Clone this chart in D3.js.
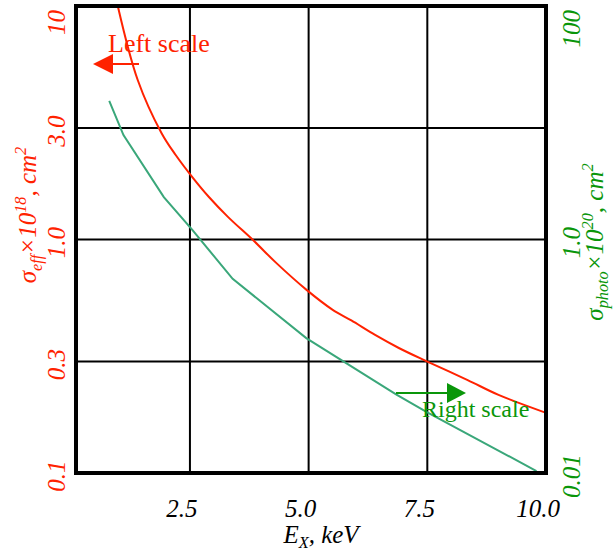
<!DOCTYPE html>
<html>
<head>
<meta charset="utf-8">
<script src="https://cdn.jsdelivr.net/npm/d3@7"></script>
<style>
  body { margin: 0; background: #fff; }
  text { font-family: "Liberation Serif", "Times New Roman", serif; }
</style>
</head>
<body>
<script>
const width = 614;
const height = 554;

// plot box
const plotL = 76, plotR = 546, plotT = 6, plotB = 473;

// ticks
const energyTicks = [2.5, 5.0, 7.5, 10.0];
const energyLabels = ["2.5", "5.0", "7.5", "10.0"];
const leftTicks = [0.1, 0.3, 1.0, 3.0, 10];
const leftLabels = ["0.1", "0.3", "1.0", "3.0", "10"];
const rightTicks = [0.01, 1.0, 100];
const rightLabels = ["0.01", "1.0", "100"];

// sigma_eff (left scale), x1e-18 cm^2
const effEnergy = [0.98, 1.4, 1.9, 2.2, 2.55, 2.9, 3.3, 3.85, 4.3, 4.95, 5.5, 5.9, 6.4, 6.9, 7.5, 8.35, 9.0, 10.0];
const effSigma  = [10, 4.82, 2.86, 2.30, 1.85, 1.52, 1.25, 0.985, 0.80, 0.61, 0.501, 0.450, 0.390, 0.343, 0.30, 0.25, 0.216, 0.181];

// sigma_photo (right scale), x1e-20 cm^2
const photoEnergy = [0.8, 1.1, 1.95, 2.55, 3.4, 4.95, 6.85, 7.5, 9.8];
const photoSigma  = [15.4, 7.85, 2.31, 1.21, 0.46, 0.143, 0.047, 0.033, 0.0104];

const red = "#ff2200";
const green = "#0a960a";
const teal = "#3aa77a";

const svg = d3.select("body")
    .append("svg")
    .attr("width", width)
    .attr("height", height);

const xScale = d3.scaleLinear().domain([0.1, 10]).range([plotL, plotR]);
const yLeft = d3.scaleLog().domain([0.1, 10]).range([plotB, plotT]);
const yRight = d3.scaleLog().domain([0.01, 100]).range([plotB, plotT]);

// gridlines
svg.append("g")
    .selectAll("line")
    .data(energyTicks.slice(0, 3))
    .join("line")
    .attr("x1", d => xScale(d)).attr("x2", d => xScale(d))
    .attr("y1", plotT).attr("y2", plotB)
    .attr("stroke", "#000").attr("stroke-width", 2);

svg.append("g")
    .selectAll("line")
    .data(leftTicks.slice(1, 4))
    .join("line")
    .attr("x1", plotL).attr("x2", plotR)
    .attr("y1", d => yLeft(d)).attr("y2", d => yLeft(d))
    .attr("stroke", "#000").attr("stroke-width", 2);

// curves
const effLine = d3.line()
    .x(d => xScale(d[0]))
    .y(d => yLeft(d[1]))
    .curve(d3.curveCatmullRom.alpha(0.5));

const photoLine = d3.line()
    .x(d => xScale(d[0]))
    .y(d => yRight(d[1]))
    .curve(d3.curveLinear);

svg.append("path")
    .datum(d3.zip(effEnergy, effSigma))
    .attr("d", effLine)
    .attr("fill", "none")
    .attr("stroke", red)
    .attr("stroke-width", 2);

svg.append("path")
    .datum(d3.zip(photoEnergy, photoSigma))
    .attr("d", photoLine)
    .attr("fill", "none")
    .attr("stroke", teal)
    .attr("stroke-width", 2);

// frame
svg.append("rect")
    .attr("x", plotL).attr("y", plotT)
    .attr("width", plotR - plotL).attr("height", plotB - plotT)
    .attr("fill", "none")
    .attr("stroke", "#000")
    .attr("stroke-width", 4);

// bottom tick labels
svg.append("g")
    .selectAll("text")
    .data(energyTicks)
    .join("text")
    .attr("x", d => xScale(d) - 8)
    .attr("y", 517)
    .attr("text-anchor", "middle")
    .attr("font-size", 25)
    .attr("font-style", "italic")
    .attr("fill", "#000")
    .text((d, i) => energyLabels[i]);

// rotated tick labels
function sideLabels(ticks, labels, scale, x, color) {
    svg.append("g")
        .selectAll("text")
        .data(ticks)
        .join("text")
        .attr("transform", (d, i) => {
            const top = i === ticks.length - 1;
            const y = top ? plotT + 4 : scale(d) + 3;
            return `translate(${x},${y}) rotate(-90)`;
        })
        .attr("text-anchor", (d, i) => i === ticks.length - 1 ? "end" : "middle")
        .attr("font-size", 25)
        .attr("font-style", "italic")
        .attr("fill", color)
        .text((d, i) => labels[i]);
}
sideLabels(leftTicks, leftLabels, yLeft, 65, red);
sideLabels(rightTicks, rightLabels, yRight, 580, green);

// rich text helper (sub / sup)
function richText(g, parts, size, subShift) {
    const t = g.append("text")
        .attr("font-size", size)
        .attr("font-style", "italic");
    let shift = 0;
    parts.forEach(p => {
        let target = 0, fs = size;
        if (p[1] === "sub") { target = size * subShift; fs = size * 0.65; }
        if (p[1] === "sup") { target = -size * 0.4; fs = size * 0.65; }
        t.append("tspan")
            .attr("dy", target - shift)
            .attr("font-size", fs)
            .text(p[0]);
        shift = target;
    });
    return t;
}

// axis titles
const xTitle = richText(svg.append("g").attr("transform", "translate(321,543)"),
    [["E", ""], ["X", "sub"], [", keV", ""]], 25, 0.2);
xTitle.attr("text-anchor", "middle").attr("fill", "#000");

const leftTitle = richText(svg.append("g").attr("transform", "translate(36,215) rotate(-90)"),
    [["σ", ""], ["eff", "sub"], ["×10", ""], ["18", "sup"], [", cm", ""], ["2", "sup"]], 25, 0.25);
leftTitle.attr("text-anchor", "middle").attr("fill", red);

const rightTitle = richText(svg.append("g").attr("transform", "translate(603,242) rotate(-90)"),
    [["σ", ""], ["photo", "sub"], ["×10", ""], ["20", "sup"], [", cm", ""], ["2", "sup"]], 25, 0.18);
rightTitle.attr("text-anchor", "middle").attr("fill", green);

// legend arrows
const legend = svg.append("g");
legend.append("line")
    .attr("x1", 112).attr("x2", 139).attr("y1", 64).attr("y2", 64)
    .attr("stroke", red).attr("stroke-width", 2);
legend.append("path")
    .attr("d", "M93,64 L113,54 L113,74 Z")
    .attr("fill", red);
legend.append("text")
    .attr("x", 108).attr("y", 52)
    .attr("font-size", 26)
    .attr("fill", red)
    .text("Left scale");

legend.append("line")
    .attr("x1", 396).attr("x2", 448).attr("y1", 393).attr("y2", 393)
    .attr("stroke", green).attr("stroke-width", 2);
legend.append("path")
    .attr("d", "M466,393 L447,383 L447,403 Z")
    .attr("fill", green);
legend.append("text")
    .attr("x", 422).attr("y", 417)
    .attr("font-size", 24)
    .attr("fill", green)
    .text("Right scale");
</script>
</body>
</html>
